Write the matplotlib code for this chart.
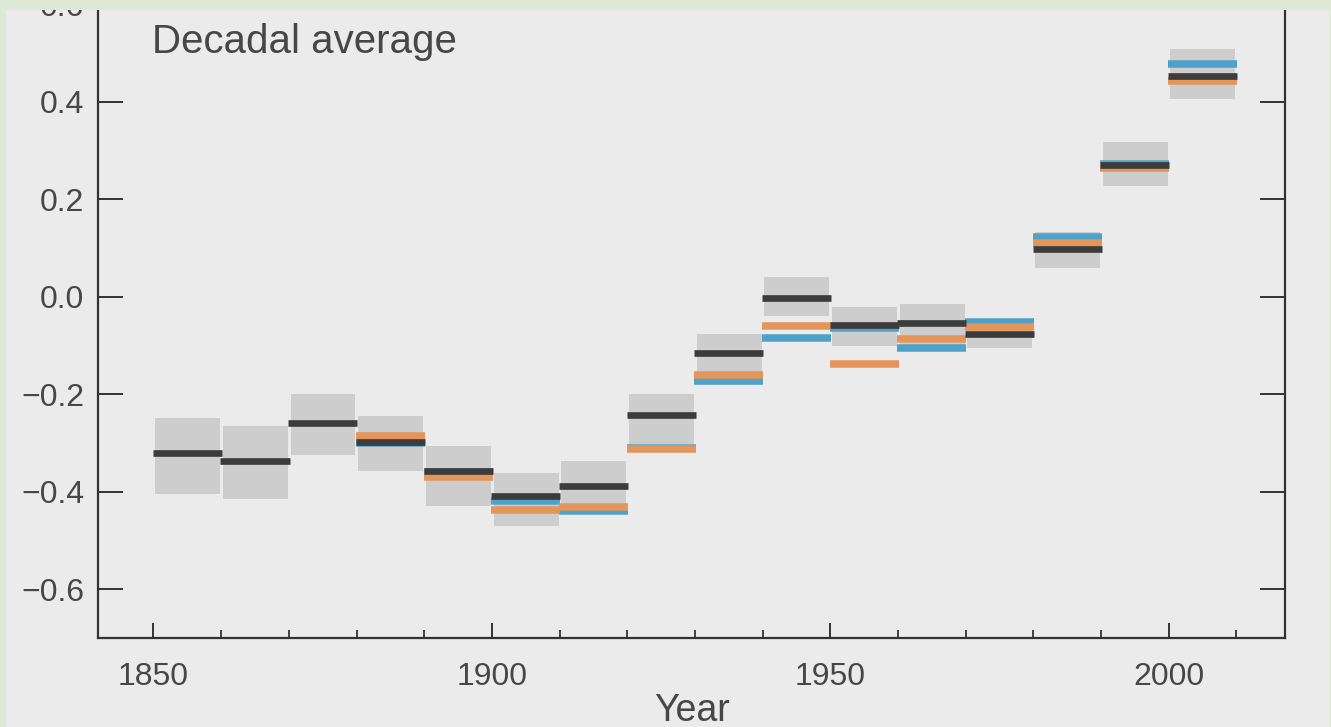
import matplotlib
matplotlib.use("Agg")
import matplotlib.pyplot as plt
from matplotlib.patches import Rectangle
from matplotlib.ticker import MultipleLocator
import numpy as np

# ---- data ----
decades = [1850, 1860, 1870, 1880, 1890, 1900, 1910, 1920,
           1930, 1940, 1950, 1960, 1970, 1980, 1990, 2000]
hadcrut = [-0.321, -0.337, -0.258, -0.298, -0.357, -0.408, -0.388, -0.242,
           -0.115, -0.003, -0.058, -0.053, -0.076, 0.097, 0.270, 0.453]
unc_low = [-0.405, -0.414, -0.325, -0.357, -0.430, -0.470, -0.446, -0.303,
           -0.180, -0.039, -0.101, -0.100, -0.106, 0.058, 0.227, 0.405]
unc_high = [-0.249, -0.265, -0.200, -0.244, -0.306, -0.361, -0.337, -0.200,
            -0.077, 0.041, -0.020, -0.015, -0.046, 0.132, 0.318, 0.508]
decades_b = [1880, 1890, 1900, 1910, 1920, 1930, 1940, 1950,
             1960, 1970, 1980, 1990, 2000]
noaa = [-0.285, -0.370, -0.437, -0.432, -0.313, -0.161, -0.061, -0.137,
        -0.086, -0.063, 0.111, 0.265, 0.443]
giss = [-0.300, -0.360, -0.418, -0.440, -0.310, -0.173, -0.084, -0.065,
        -0.106, -0.052, 0.122, 0.272, 0.477]
yticks = [-0.6, -0.4, -0.2, 0.0, 0.2, 0.4, 0.6]
xticks = [1850, 1900, 1950, 2000]

# ---- style ----
plt.rcParams['font.family'] = ['Liberation Sans', 'DejaVu Sans']
TXT = '#474747'
BG = '#ebebeb'
FRAME = '#dde8d5'

W, H = 1331, 727
fig = plt.figure(figsize=(W / 100, H / 100), dpi=100)
fig.patch.set_facecolor(BG)

# axes placement (pixel measured)
left_px, right_px, bottom_px = 98, 1285, 638
top_px = bottom_px - 1.4 * 487.5
ax = fig.add_axes([left_px / W, (H - bottom_px) / H,
                   (right_px - left_px) / W, (bottom_px - top_px) / H])
ax.set_facecolor(BG)

dec = np.array(decades, dtype=float)
low = np.array(unc_low)
high = np.array(unc_high)
ax.bar(dec + 0.25, high - low, bottom=low, width=9.6, align='edge',
       color='#cdcdcd', edgecolor='none', zorder=1)

db = np.array(decades_b, dtype=float)
ax.hlines(giss, db - 0.1, db + 10.1, colors='#4ea2c9', linewidth=5.4,
          zorder=2, capstyle='butt')
ax.hlines(noaa, db - 0.1, db + 10.1, colors='#e3955a', linewidth=5.4,
          zorder=3, capstyle='butt')
ax.hlines(hadcrut, dec - 0.1, dec + 10.1, colors='#3c3c3c', linewidth=4.8,
          zorder=4, capstyle='butt')

ax.set_xlim(1841.8, 2017.2)
ax.set_ylim(-0.7, 0.7)
ax.set_yticks(yticks)
ax.set_xticks(xticks)
ax.xaxis.set_minor_locator(MultipleLocator(10))

for s in ['left', 'right', 'bottom']:
    ax.spines[s].set_color('#333333')
    ax.spines[s].set_linewidth(1.6)
ax.spines['top'].set_visible(False)

ax.tick_params(axis='y', which='major', direction='in', length=18, width=1.4,
               color='#333333', left=True, right=True, labelsize=23,
               labelcolor=TXT, pad=10)
ax.tick_params(axis='x', which='major', direction='in', length=11, width=1.4,
               color='#333333', bottom=True, top=False, labelsize=23,
               labelcolor=TXT, pad=17)
ax.tick_params(axis='x', which='minor', direction='in', length=6, width=1.3,
               color='#333333', bottom=True, top=False)

ax.set_xlabel('Year', fontsize=27, color=TXT, labelpad=1)

fig.text(152 / W, 1 - 53 / H, 'Decadal average', fontsize=29, color=TXT,
         ha='left', va='baseline')

# green outer frame (drawn on top, like the screenshot border)
fig.patches.append(Rectangle((0, 1 - 10 / H), 1, 10 / H, transform=fig.transFigure,
                             facecolor=FRAME, edgecolor='none', zorder=10))
fig.patches.append(Rectangle((0, 0), 6 / W, 1, transform=fig.transFigure,
                             facecolor=FRAME, edgecolor='none', zorder=10))
fig.patches.append(Rectangle((1 - 1.5 / W, 0), 1.5 / W, 1, transform=fig.transFigure,
                             facecolor=FRAME, edgecolor='none', zorder=10))

fig.savefig('out.png', dpi=100, facecolor=fig.get_facecolor())
